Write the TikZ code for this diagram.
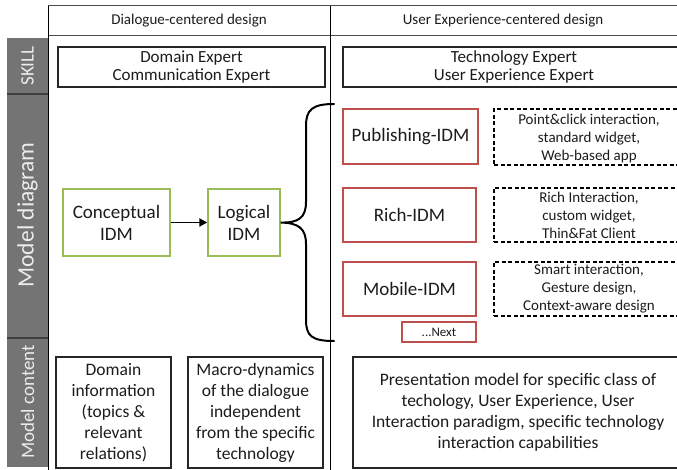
\documentclass[tikz,border=0pt]{standalone}
\usepackage{fontspec}
\setmainfont{Carlito}
\usetikzlibrary{arrows.meta}

\definecolor{idmgreen}{HTML}{9BBB59}
\definecolor{idmred}{HTML}{C0504D}
\definecolor{barfill}{HTML}{747474}
\definecolor{bartext}{HTML}{ECECEC}
\definecolor{ink}{HTML}{1C1C1C}

\tikzset{
  tableline/.style={draw=black!70, line width=1pt},
  sidebar/.style={fill=barfill, draw=none},
  barsep/.style={draw=black!75, line width=1.2pt},
  sidelabel/.style={rotate=90, text=bartext, inner sep=0pt},
  headtext/.style={text=ink, inner sep=0pt, font=\fontsize{15}{18}\selectfont},
  plainbox/.style={draw=black!85, line width=1.6pt, align=center, inner sep=0pt, text=ink},
  skillbox/.style={plainbox, font=\fontsize{17}{18.5}\selectfont},
  contentbox/.style={plainbox, font=\fontsize{17.5}{21}\selectfont},
  greenbox/.style={draw=idmgreen, line width=1.4pt, align=center, inner sep=0pt, text=ink,
                   font=\fontsize{19}{22}\selectfont},
  redbox/.style={draw=idmred, line width=1.4pt, align=center, inner sep=0pt, text=ink,
                 font=\fontsize{19}{22}\selectfont},
  notebox/.style={draw=black, dash pattern=on 4pt off 2.5pt, line width=1.5pt, align=center,
                  inner sep=0pt, text=ink, font=\fontsize{15}{18}\selectfont},
  flow/.style={draw=black, line width=1.9pt, -{Triangle[length=8pt,width=8pt]}},
  bracepath/.style={draw=black, line width=2pt, line cap=round}
}

\begin{document}
\begin{tikzpicture}[x=1pt, y=-1pt]
  \clip (0,0) rectangle (677,470);
  \fill[white] (0,0) rectangle (677,470);

  % side bars with row labels
  \fill[sidebar] (7,38) rectangle (48,467);
  \draw[barsep] (7,94) -- (48,94);
  \draw[barsep] (7,338) -- (48,338);
  \node[sidelabel, font=\fontsize{19}{19}\selectfont] (lskill) at (27.5,66) {SKILL};
  \node[sidelabel, font=\fontsize{23.5}{23.5}\selectfont] (ldiag) at (27.5,215) {Model diagram};
  \node[sidelabel, font=\fontsize{19}{19}\selectfont] (lcont) at (27.5,402) {Model content};

  % table frame
  \draw[tableline] (48,6) -- (680,6);
  \draw[tableline] (48,36) -- (680,36);
  \draw[draw=black, line width=0.9pt] (48,6) -- (48,472);
  \draw[draw=black, line width=0.9pt] (330,6) -- (330,472);

  % column headers
  \node[headtext] (hleft) at (189,21) {Dialogue-centered design};
  \node[headtext] (hright) at (503,21) {User Experience-centered design};

  % skill row
  \node[skillbox, minimum width=267pt, minimum height=40pt] (skillL) at (191.5,67)
    {Domain Expert\\Communication Expert};
  \node[skillbox, minimum width=342pt, minimum height=40pt] (skillR) at (514,67)
    {Technology Expert\\User Experience Expert};

  % model diagram row: dialogue side
  \node[greenbox, minimum width=107pt, minimum height=67pt] (concept) at (116.5,222.5)
    {Conceptual\\IDM};
  \node[greenbox, minimum width=72pt, minimum height=67pt] (logical) at (244,222.5)
    {Logical\\IDM};
  \draw[flow] (concept) -- (logical);

  % brace fanning out to the technology-specific models
  \coordinate (btop) at (334,104);
  \coordinate (bbot) at (334,341);
  \draw[bracepath] (btop) .. controls (312,104) and (306,110) .. (306,126)
    -- (306,202) .. controls (306,218) and (298,223) .. (logical.east)
    .. controls (298,223) and (306,228) .. (306,244)
    -- (306,320) .. controls (306,336) and (312,341) .. (bbot);

  % model diagram row: user experience side
  \node[redbox, minimum width=135pt, minimum height=55pt] (pub) at (410.5,136.5) {Publishing-IDM};
  \node[redbox, minimum width=133pt, minimum height=54pt] (rich) at (409.5,215) {Rich-IDM};
  \node[redbox, minimum width=133pt, minimum height=54pt] (mobile) at (409.5,289) {Mobile-IDM};
  \node[redbox, line width=1.2pt, minimum width=74pt, minimum height=20pt,
        font=\fontsize{13}{15}\selectfont] (next) at (439,332) {...Next};

  \node[notebox, minimum width=190pt, minimum height=56pt, text depth=-5pt] (npub) at (589,137)
    {Point\&click interaction,\\standard widget,\\Web-based app};
  \node[notebox, minimum width=190pt, minimum height=54pt] (nrich) at (589,215)
    {Rich Interaction,\\custom widget,\\Thin\&Fat Client};
  \node[notebox, minimum width=190pt, minimum height=54pt] (nmobile) at (589,289)
    {Smart interaction,\\Gesture design,\\Context-aware design};

  % model content row
  \node[contentbox, minimum width=115pt, minimum height=111pt] (domain) at (113.5,412.5)
    {Domain\\information\\(topics \&\\relevant\\relations)};
  \node[contentbox, minimum width=135pt, minimum height=111pt] (macro) at (255.5,412.5)
    {Macro-dynamics\\of the dialogue\\independent\\from the specific\\technology};
  \node[contentbox, minimum width=330pt, minimum height=111pt] (pres) at (518,412.5)
    {Presentation model for specific class of\\techology, User Experience, User\\Interaction paradigm, specific technology\\interaction capabilities};
\end{tikzpicture}
\end{document}
